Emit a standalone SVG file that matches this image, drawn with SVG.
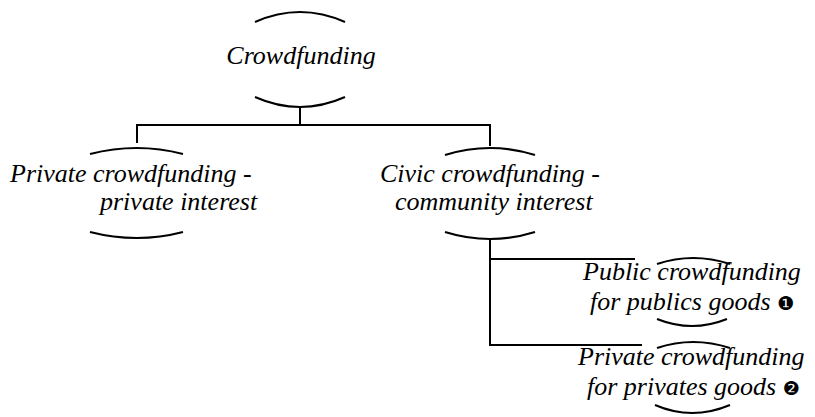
<svg xmlns="http://www.w3.org/2000/svg" width="815" height="417" viewBox="0 0 815 417">
<style>
.arc{fill:none;stroke:#000;stroke-width:2}
.ln{fill:none;stroke:#000;stroke-width:2}
</style>
<rect width="815" height="417" fill="#fff"/>
<g id="connectors">
<path class="ln" d="M300,107 V125 M137,143 V125 H490 V146"/>
<path class="ln" d="M490,238 V345 H642 M490,259 H635"/>
</g>
<g id="crowdfunding">
<path class="arc" d="M255,22 Q300,2 345,22 M255,97 Q300,117 345,97"/>
<text style="font-family:'Liberation Serif','Times New Roman',serif;font-style:italic;font-size:26px" x="301" y="64" text-anchor="middle">Crowdfunding</text>
</g>
<g id="private">
<path class="arc" d="M90,154 Q137,142 183,154 M90,232 Q137,244 183,232"/>
<text style="font-family:'Liberation Serif','Times New Roman',serif;font-style:italic;font-size:26px" x="10" y="182">Private crowdfunding -</text>
<text style="font-family:'Liberation Serif','Times New Roman',serif;font-style:italic;font-size:26px" x="100" y="210">private interest</text>
</g>
<g id="civic">
<path class="arc" d="M445,155 Q490,141 535,155 M445,232 Q490,246 535,232"/>
<text style="font-family:'Liberation Serif','Times New Roman',serif;font-style:italic;font-size:26px" x="380" y="182">Civic crowdfunding -</text>
<text style="font-family:'Liberation Serif','Times New Roman',serif;font-style:italic;font-size:26px" x="395" y="210">community interest</text>
</g>
<g id="public-goods">
<path class="arc" d="M657,264 Q693,252 730,264 M657,319 Q692,333 727,319"/>
<text style="font-family:'Liberation Serif','Times New Roman',serif;font-style:italic;font-size:26px" x="583" y="280">Public crowdfunding</text>
<text style="font-family:'Liberation Serif','Times New Roman',serif;font-style:italic;font-size:26px" x="590" y="310">for publics goods <tspan style="font-family:'DejaVu Sans',sans-serif;font-style:normal;font-size:19px">&#x2776;</tspan></text>
</g>
<g id="private-goods">
<path class="arc" d="M657,348 Q693,336 730,348 M655,405 Q692,421 730,405"/>
<text style="font-family:'Liberation Serif','Times New Roman',serif;font-style:italic;font-size:26px" x="578" y="365">Private crowdfunding</text>
<text style="font-family:'Liberation Serif','Times New Roman',serif;font-style:italic;font-size:26px" x="587" y="395">for privates goods <tspan style="font-family:'DejaVu Sans',sans-serif;font-style:normal;font-size:19px">&#x2777;</tspan></text>
</g>
</svg>
